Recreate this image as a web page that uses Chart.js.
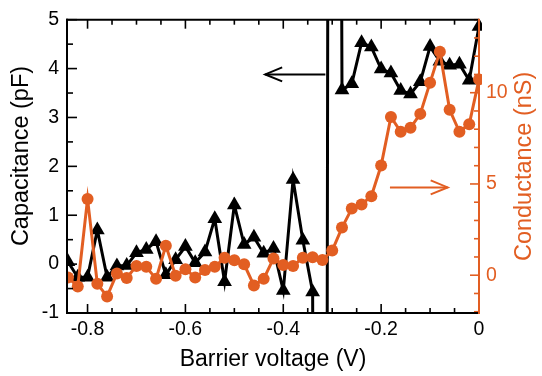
<!DOCTYPE html>
<html><head><meta charset="utf-8">
<script src="https://cdn.jsdelivr.net/npm/chart.js@4/dist/chart.umd.min.js"></script>
<style>html,body{margin:0;padding:0;background:#fff;}#wrap{width:542px;height:376px;}</style>
</head><body><div id="wrap"><canvas id="c" width="542" height="376"></canvas></div>
<script>
// ---- data ----
const voltage = [-0.84,-0.82,-0.80,-0.78,-0.76,-0.74,-0.72,-0.70,-0.68,-0.66,-0.64,-0.62,-0.60,-0.58,-0.56,-0.54,-0.52,-0.50,-0.48,-0.46,-0.44,-0.42,-0.40,-0.38,-0.36,-0.34,-0.32,-0.30,-0.28,-0.26,-0.24,-0.22,-0.20,-0.18,-0.16,-0.14,-0.12,-0.10,-0.08,-0.06,-0.04,-0.02,0.00];
const capacitance = [0.05,-0.27,-0.27,0.70,-0.27,-0.04,-0.03,0.23,0.30,0.46,-0.22,0.09,0.36,0.03,0.25,0.93,-0.36,1.21,0.40,0.55,0.22,0.32,-0.54,1.73,0.49,-0.57,-60,60,3.56,3.69,4.53,4.44,3.99,3.91,3.55,3.48,3.73,4.45,4.15,4.07,4.09,3.76,4.86];
const conductance = [-0.12,-0.62,4.18,-0.47,-1.16,0.10,-0.15,0.51,0.46,-0.20,1.62,-0.03,0.33,-0.12,0.28,0.46,0.96,0.82,0.60,-0.56,-0.20,0.92,0.56,0.51,0.96,0.99,0.83,1.35,2.61,3.65,3.88,4.33,6.01,8.67,7.86,8.08,8.84,10.55,12.25,9.06,7.86,8.27,10.73];
const xTickValues = [-0.8,-0.6,-0.4,-0.2,0];
const capTickValues = [-1,0,1,2,3,4,5];
const condTickValues = [0,5,10];
const xTitle = 'Barrier voltage (V)';
const capTitle = 'Capacitance (pF)';
const condTitle = 'Conductance (nS)';

const ORANGE = 'rgb(226,94,34)';
const FONT = "'Liberation Sans', Arial, Helvetica, sans-serif";

const frame = {
  id: 'frame',
  afterDatasetsDraw(chart) {
    const {ctx, chartArea: a, scales} = chart;
    const xs = scales.x, yl = scales.y, yr = scales.y2;
    ctx.save();
    ctx.lineCap = 'butt';
    const seg = (x1, y1, x2, y2, c, w) => {
      ctx.strokeStyle = c; ctx.lineWidth = w;
      ctx.beginPath(); ctx.moveTo(x1, y1); ctx.lineTo(x2, y2); ctx.stroke();
    };
    for (let k = 0; k <= 16; k++) {
      const v = -0.8 + k * 0.05;
      const px = xs.getPixelForValue(v);
      const L = (k % 4 === 0) ? 9 : 5;
      seg(px, a.bottom, px, a.bottom - L, '#000', 1.6);
      seg(px, a.top, px, a.top + L, '#000', 1.6);
    }
    for (let k = 0; k <= 12; k++) {
      const v = -1 + k * 0.5;
      const py = yl.getPixelForValue(v);
      const L = (k % 2 === 0) ? 10 : 6;
      seg(a.left, py, a.left + L, py, '#000', 1.6);
    }
    for (let v = -2; v <= 14; v++) {
      const py = yr.getPixelForValue(v);
      const L = (v % 5 === 0) ? 9 : 5;
      seg(a.right, py, a.right - L, py, ORANGE, 1.6);
    }
    seg(a.left, a.top - 1, a.left, a.bottom + 1, '#000', 2);
    seg(a.left - 1, a.top, a.right, a.top, '#000', 2);
    seg(a.left - 1, a.bottom, a.right, a.bottom, '#000', 2);
    seg(a.right, a.top - 1, a.right, a.bottom + 1, ORANGE, 2);

    const arrows = chart.options.plugins.frame.arrows;
    arrows.forEach(ar => {
      const ys = scales[ar.axis];
      const x1 = xs.getPixelForValue(ar.from), x2 = xs.getPixelForValue(ar.to);
      const y = ys.getPixelForValue(ar.y);
      const dir = Math.sign(x2 - x1);
      seg(x1, y, x2, y, ar.color, 2);
      ctx.strokeStyle = ar.color; ctx.lineWidth = 2;
      ctx.beginPath();
      ctx.moveTo(x2 - dir * 17, y - 7);
      ctx.lineTo(x2, y);
      ctx.lineTo(x2 - dir * 17, y + 7);
      ctx.stroke();
    });

    ctx.font = '23.5px ' + FONT;
    ctx.textAlign = 'center';
    ctx.textBaseline = 'middle';
    // left title
    ctx.save();
    ctx.fillStyle = '#000';
    ctx.translate(22, 156);
    ctx.rotate(-Math.PI / 2);
    ctx.fillText(capTitle, 0, 0);
    ctx.restore();
    // right title
    ctx.fillStyle = ORANGE;
    ctx.translate(525, (a.top + a.bottom) / 2);
    ctx.rotate(-Math.PI / 2);
    ctx.fillText(condTitle, 0, 0);
    ctx.restore();
  }
};

const ctx = document.getElementById('c').getContext('2d');
new Chart(ctx, {
  type: 'line',
  data: {
    datasets: [
      {
        label: 'Conductance',
        data: voltage.map((v, i) => ({x: v, y: conductance[i]})),
        xAxisID: 'x', yAxisID: 'y2',
        borderColor: ORANGE, backgroundColor: ORANGE,
        borderWidth: 3, tension: 0,
        pointStyle: 'circle', pointRadius: 6, pointBorderWidth: 0,
        pointBackgroundColor: ORANGE,
        clip: {left: 0, top: 0, right: 3, bottom: 0}
      },
      {
        label: 'Capacitance',
        data: voltage.map((v, i) => ({x: v, y: capacitance[i]})),
        xAxisID: 'x', yAxisID: 'y',
        borderColor: '#000', backgroundColor: '#000',
        borderWidth: 3, tension: 0,
        pointStyle: 'triangle', pointRadius: 8.5, pointBorderWidth: 0,
        pointBackgroundColor: '#000',
        clip: {left: 0, top: 0, right: 3, bottom: 0}
      }
    ]
  },
  options: {
    responsive: false, animation: false, devicePixelRatio: 1,
    layout: {padding: 0},
    plugins: {
      legend: {display: false}, tooltip: {enabled: false},
      frame: {
        arrows: [
          {from: -0.314, to: -0.437, y: 3.88, axis: 'y', color: '#000'},
          {from: -0.182, to: -0.064, y: 4.81, axis: 'y2', color: ORANGE}
        ]
      }
    },
    scales: {
      x: {
        type: 'linear', position: 'bottom', min: -0.842, max: 0,
        grid: {display: false, drawTicks: false}, border: {display: false},
        afterBuildTicks: s => { s.ticks = xTickValues.map(v => ({value: v})); },
        afterFit: s => { s.height = 63; },
        ticks: {color: '#000', font: {family: FONT, size: 19.5}, padding: 5,
          maxRotation: 0, autoSkip: false,
          callback: v => (v === 0 ? '0' : v.toFixed(1))},
        title: {display: true, text: xTitle, color: '#000',
          font: {family: FONT, size: 23}, padding: {top: 0, bottom: 3}}
      },
      x2: {
        type: 'linear', position: 'top', min: -0.842, max: 0,
        grid: {display: false, drawTicks: false}, border: {display: false},
        ticks: {display: false},
        afterFit: s => { s.height = 14; }
      },
      y: {
        type: 'linear', position: 'left', min: -1, max: 5,
        grid: {display: false, drawTicks: false}, border: {display: false},
        afterBuildTicks: s => { s.ticks = capTickValues.map(v => ({value: v})); },
        afterFit: s => { s.width = 67; },
        ticks: {color: '#000', font: {family: FONT, size: 19.5}, padding: 8,
          callback: v => String(v)}
      },
      y2: {
        type: 'linear', position: 'right', min: -2.07, max: 14.0,
        grid: {display: false, drawTicks: false}, border: {display: false},
        afterBuildTicks: s => { s.ticks = condTickValues.map(v => ({value: v})); },
        afterFit: s => { s.width = 63; },
        ticks: {color: ORANGE, font: {family: FONT, size: 19.5}, padding: 7,
          callback: v => String(v)}
      }
    }
  },
  plugins: [frame]
});
</script>
</body></html>
